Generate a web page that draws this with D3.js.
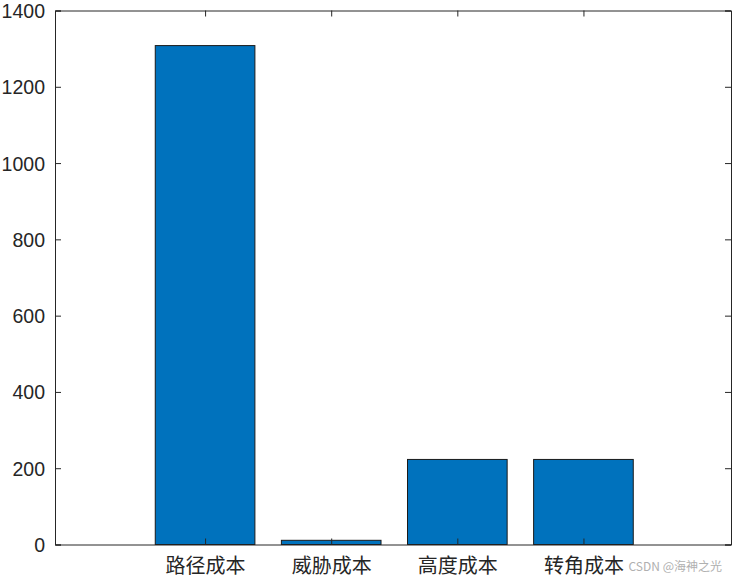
<!DOCTYPE html>
<html>
<head>
<meta charset="utf-8">
<script src="https://cdn.jsdelivr.net/npm/d3@7"></script>
<style>
body { margin: 0; background: #fff; }
svg { display: block; }
</style>
</head>
<body>
<svg width="734" height="579"></svg>
<script>
var categories = ["路径成本", "威胁成本", "高度成本", "转角成本"];
var costs = [1308, 11, 223, 223];
var yTicks = [0, 200, 400, 600, 800, 1000, 1200, 1400];

var svg = d3.select("svg"),
    margin = {top: 10.5, right: 3, bottom: 34.5, left: 55},
    width = +svg.attr("width") - margin.left - margin.right,
    height = +svg.attr("height") - margin.top - margin.bottom,
    g = svg.append("g").attr("transform", "translate(" + margin.left + "," + margin.top + ")");

var x = d3.scaleLinear()
    .domain([-0.19, 5.17])
    .range([0, width]);

var y = d3.scaleLinear()
    .domain([0, 1400])
    .range([height, 0]);

var barW = (x(1.79) - x(1));

g.selectAll(".bar")
  .data(costs)
  .enter().append("rect")
    .attr("class", "bar")
    .attr("x", function(d, i) { return x(i + 1) - barW / 2; })
    .attr("y", function(d) { return y(d); })
    .attr("width", barW)
    .attr("height", function(d) { return height - y(d); })
    .attr("fill", "#0072BD")
    .attr("stroke", "#1a1a1a")
    .attr("stroke-width", 1);

var axisColor = "#262626";

// left axis
var yl = g.append("g")
    .call(d3.axisLeft(y).tickValues(yTicks).tickSize(-6).tickPadding(10).tickFormat(d3.format("d")));
// right axis
var yr = g.append("g")
    .attr("transform", "translate(" + width + ",0)")
    .call(d3.axisRight(y).tickValues(yTicks).tickSize(-6).tickFormat(""));
// bottom axis
var xb = g.append("g")
    .attr("transform", "translate(0," + height + ")")
    .call(d3.axisBottom(x).tickValues([1, 2, 3, 4]).tickSize(-6).tickPadding(16)
      .tickFormat(function(d) { return categories[d - 1]; }));
// top axis
var xt = g.append("g")
    .call(d3.axisTop(x).tickValues([1, 2, 3, 4]).tickSize(-6).tickFormat(""));

[yl, yr, xb, xt].forEach(function(a) {
  a.select(".domain").attr("stroke", axisColor).attr("stroke-width", 1);
  a.selectAll(".tick line").attr("stroke", axisColor);
});

yl.selectAll("text")
    .attr("fill", axisColor)
    .style("font-family", "Liberation Sans, Arial, sans-serif")
    .style("font-size", "19.5px")
    .attr("dy", "0.36em");

xb.selectAll("text")
    .attr("fill", axisColor)
    .style("font-family", "Noto Sans CJK SC, sans-serif")
    .style("font-size", "20px")
    .attr("dy", "0.6em");

svg.append("text")
    .attr("x", 722)
    .attr("y", 571)
    .attr("text-anchor", "end")
    .attr("fill", "#b0b0b0")
    .style("font-family", "Noto Sans CJK SC, sans-serif")
    .style("font-size", "12px")
    .text("CSDN @海神之光");
</script>
</body>
</html>
